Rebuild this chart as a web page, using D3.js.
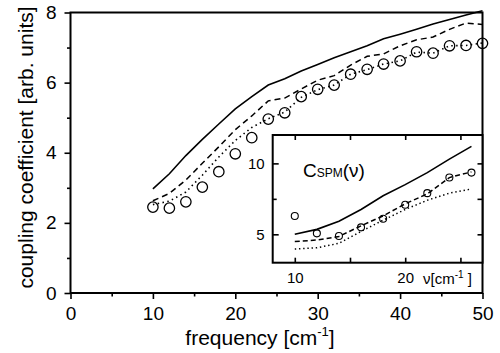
<!DOCTYPE html>
<html>
<head>
<meta charset="utf-8">
<script src="https://cdn.jsdelivr.net/npm/d3@7"></script>
<style>
  body { margin: 0; background: #fff; }
  svg { font-family: "Liberation Sans", Arial, sans-serif; }
</style>
</head>
<body>
<svg id="drawing_region"></svg>
<script>
// main panel: coupling coefficient vs frequency
const freq = [10, 12, 14, 16, 18, 20, 22, 24, 26, 28, 30, 32, 34, 36, 38, 40, 42, 44, 46, 48, 50];
const solid_main  = [2.97, 3.40, 3.92, 4.38, 4.82, 5.25, 5.60, 5.93, 6.11, 6.33, 6.52, 6.71, 6.88, 7.05, 7.25, 7.38, 7.52, 7.67, 7.80, 7.93, 8.05];
const dashed_main = [2.63, 2.84, 3.22, 3.70, 4.17, 4.66, 5.05, 5.48, 5.56, 5.82, 6.07, 6.20, 6.50, 6.75, 6.82, 7.05, 7.22, 7.30, 7.52, 7.70, 7.66];
const dotted_main = [2.52, 2.62, 2.88, 3.36, 3.88, 4.35, 4.72, 4.97, 5.16, 5.58, 5.80, 5.93, 6.24, 6.37, 6.53, 6.62, 6.87, 6.84, 7.05, 7.06, 7.13];
const circle_main = [2.45, 2.42, 2.60, 3.02, 3.46, 3.97, 4.43, 4.96, 5.14, 5.60, 5.81, 5.93, 6.24, 6.38, 6.53, 6.62, 6.88, 6.84, 7.05, 7.06, 7.12];

// inset: C_SPM(nu)
const nu = [10, 12, 14, 16, 18, 20, 22, 24, 26];
const solid_inset  = [5.00, 5.35, 5.92, 6.75, 7.72, 8.50, 9.35, 10.30, 11.20];
const dashed_inset = [4.49, 4.60, 4.85, 5.60, 6.30, 7.15, 7.85, 9.00, 9.40];
const dotted_inset = [3.96, 4.05, 4.37, 5.20, 6.00, 6.75, 7.40, 7.90, 8.20];
const circle_inset = [6.29, 5.07, 4.88, 5.49, 6.10, 7.08, 7.90, 9.00, 9.35];

const main_xticks = [0, 10, 20, 30, 40, 50];
const main_xminor = [5, 15, 25, 35, 45];
const main_yticks = [0, 2, 4, 6, 8];
const main_yminor = [1, 3, 5, 7];
const inset_xticks = [10, 15, 20, 25];
const inset_xlabels = [10, 20];
const inset_yticks = [5, 10];
const inset_yminor = [7.5];

const svg = d3.select('#drawing_region')
    .attr('width', 500)
    .attr('height', 353);

// ---------- main panel ----------
const xscale = d3.scaleLinear().domain([0, 50]).range([70.5, 482.5]);
const yscale = d3.scaleLinear().domain([0, 8]).range([293, 12.5]);

const main = svg.append('g');

main.append('rect')
    .attr('x', xscale(0)).attr('y', yscale(8))
    .attr('width', xscale(50) - xscale(0))
    .attr('height', yscale(0) - yscale(8))
    .attr('fill', 'none').attr('stroke', '#000').attr('stroke-width', 2);

function styleAxis(g, size) {
    g.select('.domain').remove();
    g.selectAll('.tick line').attr('stroke', '#000').attr('stroke-width', 1.6);
    g.selectAll('.tick text').attr('fill', '#000').style('font-size', size + 'px')
        .style('font-family', '"Liberation Sans", Arial, sans-serif');
}

main.append('g')
    .attr('transform', `translate(0, ${yscale(0)})`)
    .call(d3.axisBottom(xscale).tickValues(main_xticks).tickSize(6).tickPadding(7.5).tickFormat(d3.format('d')))
    .call(g => styleAxis(g, 19));
main.append('g')
    .attr('transform', `translate(0, ${yscale(0)})`)
    .call(d3.axisBottom(xscale).tickValues(main_xminor).tickSize(3.5).tickFormat(''))
    .call(g => styleAxis(g, 19));
main.append('g')
    .attr('transform', `translate(${xscale(0)}, 0)`)
    .call(d3.axisLeft(yscale).tickValues(main_yticks).tickSize(6).tickPadding(8).tickFormat(d3.format('d')))
    .call(g => styleAxis(g, 19));
main.append('g')
    .attr('transform', `translate(${xscale(0)}, 0)`)
    .call(d3.axisLeft(yscale).tickValues(main_yminor).tickSize(3.5).tickFormat(''))
    .call(g => styleAxis(g, 19));

const xlab = main.append('text')
    .attr('x', 260).attr('y', 345)
    .attr('text-anchor', 'middle')
    .style('font-size', '21px');
xlab.append('tspan').text('frequency [cm');
xlab.append('tspan').attr('dy', -9).style('font-size', '13px').text('-1');
xlab.append('tspan').attr('dy', 9).text(']');

main.append('text')
    .attr('transform', `translate(33, 147.5) rotate(-90)`)
    .attr('text-anchor', 'middle')
    .style('font-size', '21px')
    .text('coupling coefficient [arb. units]');

function drawSeries(g, xs, ys, xv, yv, dash, width) {
    const line = d3.line().x((d, i) => xs(xv[i])).y(d => ys(d));
    g.append('path')
        .datum(yv)
        .attr('d', line)
        .attr('fill', 'none')
        .attr('stroke', '#000')
        .attr('stroke-width', width)
        .attr('stroke-dasharray', dash);
}

drawSeries(main, xscale, yscale, freq, solid_main, null, 1.6);
drawSeries(main, xscale, yscale, freq, dashed_main, '6,4', 1.5);
drawSeries(main, xscale, yscale, freq, dotted_main, '1.5,3.4', 1.6);

main.selectAll('circle.main')
    .data(circle_main)
    .enter()
    .append('circle')
    .attr('class', 'main')
    .attr('cx', (d, i) => xscale(freq[i]))
    .attr('cy', d => yscale(d))
    .attr('r', 5.2)
    .attr('fill', 'none')
    .attr('stroke', '#000')
    .attr('stroke-width', 1.3);

// ---------- inset ----------
const ixscale = d3.scaleLinear().domain([8, 27]).range([272.7, 482.5]);
const iyscale = d3.scaleLinear().domain([3, 12]).range([262.7, 135]);

const inset = svg.append('g');

inset.append('rect')
    .attr('x', ixscale(8)).attr('y', iyscale(12))
    .attr('width', ixscale(27) - ixscale(8))
    .attr('height', iyscale(3) - iyscale(12))
    .attr('fill', '#fff').attr('stroke', '#000').attr('stroke-width', 2);

inset.append('g')
    .attr('transform', `translate(0, ${iyscale(3)})`)
    .call(d3.axisBottom(ixscale).tickValues(inset_xticks).tickSize(-5).tickPadding(9.5)
        .tickFormat(d => inset_xlabels.includes(d) ? d : ''))
    .call(g => styleAxis(g, 15));
inset.append('g')
    .attr('transform', `translate(0, ${iyscale(12)})`)
    .call(d3.axisTop(ixscale).tickValues(inset_xticks).tickSize(-5).tickFormat(''))
    .call(g => styleAxis(g, 15));
inset.append('g')
    .attr('transform', `translate(${ixscale(8)}, 0)`)
    .call(d3.axisLeft(iyscale).tickValues(inset_yticks).tickSize(-6).tickPadding(8).tickFormat(d3.format('d')))
    .call(g => styleAxis(g, 15));
inset.append('g')
    .attr('transform', `translate(${ixscale(8)}, 0)`)
    .call(d3.axisLeft(iyscale).tickValues(inset_yminor).tickSize(-4).tickFormat(''))
    .call(g => styleAxis(g, 15));
inset.append('g')
    .attr('transform', `translate(${ixscale(27)}, 0)`)
    .call(d3.axisRight(iyscale).tickValues(inset_yticks.concat(inset_yminor)).tickSize(-5).tickFormat(''))
    .call(g => styleAxis(g, 15));

const ilab = inset.append('text')
    .attr('x', 423).attr('y', 284)
    .style('font-size', '15px');
ilab.append('tspan').text('ν[cm');
ilab.append('tspan').attr('dy', -6).style('font-size', '10px').text('-1');
ilab.append('tspan').attr('dy', 6).text(' ]');

const ititle = inset.append('text')
    .attr('x', 303).attr('y', 177)
    .style('font-size', '19px');
ititle.append('tspan').text('C');
ititle.append('tspan').style('font-size', '12px').text('SPM');
ititle.append('tspan').text('(ν)');

drawSeries(inset, ixscale, iyscale, nu, solid_inset, null, 1.6);
drawSeries(inset, ixscale, iyscale, nu, dashed_inset, '5,3', 1.5);
drawSeries(inset, ixscale, iyscale, nu, dotted_inset, '1.4,2.8', 1.5);

inset.selectAll('circle.inset')
    .data(circle_inset)
    .enter()
    .append('circle')
    .attr('class', 'inset')
    .attr('cx', (d, i) => ixscale(nu[i]))
    .attr('cy', d => iyscale(d))
    .attr('r', 3.5)
    .attr('fill', 'none')
    .attr('stroke', '#000')
    .attr('stroke-width', 1.1);
</script>
</body>
</html>
